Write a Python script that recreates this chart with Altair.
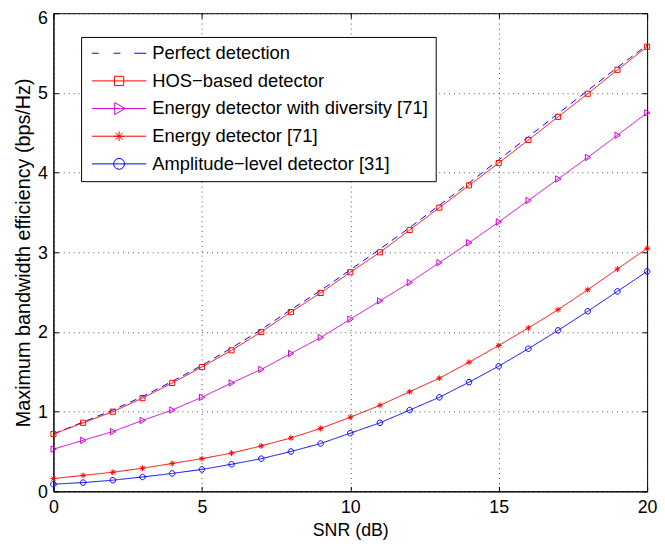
import altair as alt
import pandas as pd

# ---------------- data ----------------
snr = list(range(0, 21))

series_names = [
    "Perfect detection",
    "HOS\u2212based detector",
    "Energy detector with diversity [71]",
    "Energy detector [71]",
    "Amplitude\u2212level detector [31]",
]
series_colors = ["#0000ff", "#ff0000", "#cc00cc", "#ff0000", "#0000ff"]

perfect = [0.72, 0.87, 1.02, 1.19, 1.38, 1.58, 1.80, 2.03, 2.28, 2.52, 2.78,
           3.04, 3.31, 3.59, 3.87, 4.16, 4.45, 4.74, 5.03, 5.32, 5.60]
hos = [0.72, 0.86, 1.00, 1.17, 1.36, 1.56, 1.77, 2.00, 2.25, 2.49, 2.75,
       3.00, 3.28, 3.56, 3.84, 4.12, 4.41, 4.70, 4.99, 5.29, 5.58]
energy_div = [0.53, 0.64, 0.75, 0.89, 1.02, 1.18, 1.36, 1.53, 1.73, 1.93, 2.16,
              2.39, 2.62, 2.87, 3.12, 3.38, 3.65, 3.92, 4.19, 4.47, 4.75]
energy = [0.16, 0.20, 0.24, 0.29, 0.35, 0.41, 0.48, 0.57, 0.67, 0.79, 0.93,
          1.08, 1.25, 1.42, 1.62, 1.83, 2.05, 2.28, 2.53, 2.79, 3.05]
amplitude = [0.09, 0.11, 0.14, 0.18, 0.225, 0.275, 0.34, 0.41, 0.50, 0.60, 0.73,
             0.86, 1.02, 1.18, 1.37, 1.57, 1.79, 2.02, 2.26, 2.51, 2.76]

x_ticks = [0, 5, 10, 15, 20]
y_ticks = [0, 1, 2, 3, 4, 5, 6]

all_values = [perfect, hos, energy_div, energy, amplitude]
rows = []
for name, vals in zip(series_names, all_values):
    for x, v in zip(snr, vals):
        rows.append({"snr": x, "eff": v, "series": name})
df = pd.DataFrame(rows)
df_pts = df[df["series"] != series_names[0]]

# ---------------- styling ----------------
W, H = 601, 484
FONT = "Liberation Sans"

# plot markers (unit box [-1,1] = sqrt(size) px)
SQ = "M-0.4,-0.4L0.4,-0.4L0.4,0.4L-0.4,0.4Z"
TRI = "M-0.38,-0.5L-0.38,0.5L0.45,0Z"
AST = "M-0.45,0L0.45,0M0,-0.45L0,0.45M-0.32,-0.32L0.32,0.32M-0.32,0.32L0.32,-0.32"
CIR = "M0.43,0A0.43,0.43,0,1,1,-0.43,0A0.43,0.43,0,1,1,0.43,0Z"
marker_paths = [SQ, TRI, AST, CIR]

# legend symbols: unit = 9px (symbolSize 324); line spans 55px, shifted right
CX = 2.44
LINE = f"M{CX-3.06:.2f},0L{CX+3.06:.2f},0"
leg_paths = [
    f"M{CX-3.06:.2f},0L{CX-2.29:.2f},0M{CX-0.61:.2f},0L{CX+0.15:.2f},0"
    f"M{CX+1.71:.2f},0L{CX+3.06:.2f},0",
    LINE + f"M{CX-0.52:.2f},-0.52L{CX+0.52:.2f},-0.52L{CX+0.52:.2f},0.52"
           f"L{CX-0.52:.2f},0.52Z",
    LINE + f"M{CX-0.49:.2f},-0.67L{CX-0.49:.2f},0.67L{CX+0.67:.2f},0Z",
    LINE + f"M{CX-0.55:.2f},0L{CX+0.55:.2f},0M{CX:.2f},-0.55L{CX:.2f},0.55"
           f"M{CX-0.4:.2f},-0.4L{CX+0.4:.2f},0.4M{CX-0.4:.2f},0.4L{CX+0.4:.2f},-0.4",
    LINE + f"M{CX+0.61:.2f},0A0.61,0.61,0,1,1,{CX-0.61:.2f},0"
           f"A0.61,0.61,0,1,1,{CX+0.61:.2f},0Z",
]

x_scale = alt.Scale(domain=[0, 20], nice=False, zero=False)
y_scale = alt.Scale(domain=[0, 6], nice=False, zero=False)
color_scale = alt.Scale(domain=series_names, range=series_colors)


def tick_axis(orient, offset, values):
    return alt.Axis(orient=orient, offset=offset, values=values, title=None,
                    labels=False, domain=False, grid=False, ticks=True,
                    tickSize=5)


lines = alt.Chart(df).mark_line(strokeWidth=1, clip=True).encode(
    x=alt.X("snr:Q", scale=x_scale,
            axis=alt.Axis(orient="bottom", values=x_ticks, title="SNR (dB)",
                          grid=True, ticks=False, domain=True, labelFlush=False,
                          labelPadding=7, titlePadding=6, titleFontSize=18)),
    y=alt.Y("eff:Q", scale=y_scale,
            axis=alt.Axis(orient="left", values=y_ticks,
                          title="Maximum bandwidth efficiency (bps/Hz)",
                          grid=True, ticks=False, domain=True, labelFlush=False,
                          labelPadding=6, titlePadding=4, titleFontSize=20,
                          labelOffset={"condition": {"test": "datum.value == 6",
                                                     "value": 5},
                                       "value": 1})),
    color=alt.Color("series:N", scale=color_scale, legend=None),
    strokeDash=alt.StrokeDash(
        "series:N",
        scale=alt.Scale(domain=series_names,
                        range=[[7, 5], [1, 0], [1, 0], [1, 0], [1, 0]]),
        legend=None),
)

points = alt.Chart(df_pts).mark_point(filled=False, size=169, strokeWidth=1,
                                      opacity=1).encode(
    x=alt.X("snr:Q", scale=x_scale, axis=tick_axis("top", -H, x_ticks)),
    y=alt.Y("eff:Q", scale=y_scale, axis=tick_axis("right", -W, y_ticks)),
    color=alt.Color("series:N", scale=color_scale, legend=None),
    shape=alt.Shape("series:N",
                    scale=alt.Scale(domain=series_names[1:], range=marker_paths),
                    legend=None),
)

legend_layer = alt.Chart(df).transform_filter("false").mark_point(
    filled=False, strokeWidth=1, opacity=1).encode(
    x=alt.X("snr:Q", scale=x_scale, axis=tick_axis("bottom", -H, x_ticks)),
    y=alt.Y("eff:Q", scale=y_scale, axis=tick_axis("left", -W, y_ticks)),
    stroke=alt.Stroke("series:N",
                      scale=alt.Scale(domain=series_names, range=series_colors),
                      legend=alt.Legend(title=None)),
    shape=alt.Shape("series:N",
                    scale=alt.Scale(domain=series_names, range=leg_paths),
                    legend=alt.Legend(title=None)),
)

chart = alt.layer(lines, points, legend_layer).resolve_scale(
    shape="independent", stroke="independent"
).resolve_axis(
    x="independent", y="independent"
).properties(
    width=W, height=H,
    autosize=alt.AutoSizeParams(type="none"),
    padding={"left": 46, "top": 2, "right": 10, "bottom": 50},
).configure(
    font=FONT,
).configure_view(
    stroke="#000000", strokeWidth=1,
).configure_axis(
    labelFont=FONT, labelFontSize=18, labelColor="#000000",
    titleFont=FONT, titleColor="#000000",
    titleFontWeight="normal",
    domainColor="#000000", domainWidth=1,
    tickColor="#000000", tickWidth=1,
    gridColor="#000000", gridDash=[1, 4], gridOpacity=0.7, gridWidth=1,
).configure_legend(
    orient="none", legendX=28, legendY=24,
    strokeColor="#000000", fillColor="#ffffff", padding=7, cornerRadius=0,
    labelFont=FONT, labelFontSize=18.6, labelColor="#000000", labelLimit=0,
    symbolSize=324, symbolOffset=0, labelOffset=46,
    symbolStrokeWidth=1, rowPadding=8, symbolOpacity=1,
)

chart.save("out.html", embed_options={"renderer": "svg", "actions": False})
